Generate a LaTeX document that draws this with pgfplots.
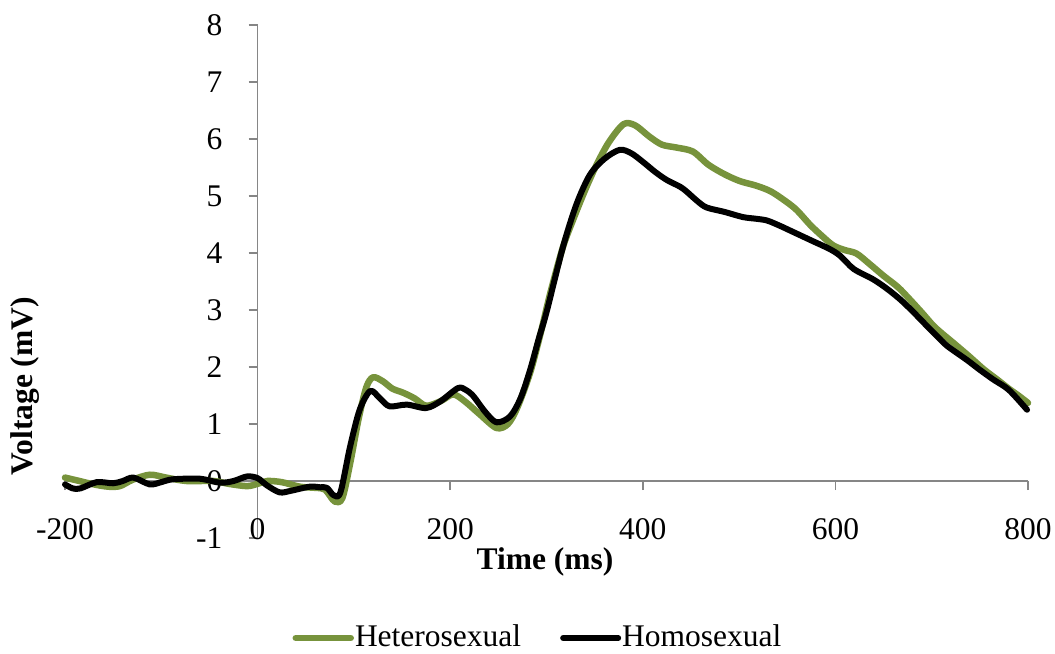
\documentclass[border=0pt]{standalone}
\usepackage{fontspec}
\setmainfont{Liberation Serif}
\usepackage{pgfplots}
\pgfplotsset{compat=1.18}
\definecolor{hetgreen}{RGB}{119,147,60}
\definecolor{axisgray}{RGB}{134,134,134}
\begin{document}
\fontsize{31.5bp}{37bp}\selectfont
\begin{tikzpicture}
\begin{axis}[
  at={(65bp,116bp)}, anchor=south west,
  scale only axis, width=963bp, height=513bp,
  xmin=-200, xmax=800, ymin=-1, ymax=8,
  clip=false,
  axis lines=middle,
  axis line style={draw=axisgray, line width=1.5bp, -},
  xtick={-200,200,400,600,800},
  xticklabels={-200,200,400,600,800},
  ytick={-1,1,2,3,4,5,6,7,8},
  yticklabels={-1,1,2,3,4,5,6,7,8},
  extra x ticks={0}, extra x tick labels={0},
  extra y ticks={0}, extra y tick labels={0},
  hide obscured x ticks=false, hide obscured y ticks=false,
  tick style={draw=axisgray, line width=1.5bp},
  major tick length=9bp,
  tick align=outside,
  xticklabel style={anchor=center, yshift=-39bp, inner sep=0pt},
  yticklabel style={anchor=east, inner sep=0pt, xshift=-26bp},
  xlabel={\textbf{Time (ms)}},
  ylabel={\textbf{Voltage (mV)}},
  xlabel style={at={(axis description cs:0.4984,-0.0468)}, anchor=center},
  ylabel style={at={(axis description cs:-0.0415,0.296)}, anchor=center, rotate=90},
  legend columns=2,
  legend style={at={(axis description cs:0.4906,-0.195)}, anchor=center,
    draw=none, fill=none, nodes={inner xsep=1bp},
    /tikz/every even column/.append style={column sep=38bp}},
  legend image code/.code={\draw[#1] (0bp,0bp) -- (55bp,0bp);},
  every axis plot/.append style={line cap=round, line join=round},
]
\addplot[hetgreen, line width=6.5bp, smooth, tension=0.5] coordinates {
(-200,0.06) (-185,0.0) (-170,-0.06) (-155,-0.1) (-143,-0.09) (-130,0.02)
(-112,0.11) (-95,0.06) (-74,0.0) (-46,0.0) (-30,-0.05) (-11,-0.09) (0,-0.05)
(10,0.0) (25,-0.02) (44,-0.1) (60,-0.12) (70,-0.15) (80,-0.36) (88,-0.3)
(96,0.3) (105,1.1) (113,1.65) (120,1.82) (130,1.75) (140,1.62) (151,1.55)
(163,1.45) (175,1.32) (190,1.4) (203,1.52) (215,1.4) (230,1.18) (248,0.93)
(260,1.0) (270,1.3) (283,1.9) (294,2.6) (304,3.3) (317,4.1) (328,4.6)
(340,5.1) (352,5.55) (365,5.95) (380,6.26) (392,6.24) (407,6.04) (420,5.9)
(435,5.85) (452,5.78) (468,5.55) (485,5.38) (501,5.26) (518,5.18) (533,5.08)
(549,4.90) (560,4.75) (574,4.49) (586,4.3) (598,4.13) (610,4.05) (622,3.99)
(636,3.8) (650,3.60) (665,3.4) (677,3.19) (690,2.95) (702,2.72) (712,2.57)
(722,2.43) (738,2.2) (754,1.96) (768,1.78) (780,1.62) (790,1.5) (800,1.37)
};
\addlegendentry{Heterosexual}
\addplot[black, line width=6bp, smooth, tension=0.5] coordinates {
(-200,-0.06) (-192,-0.13) (-184,-0.13) (-167,-0.02) (-150,-0.04) (-140,0.0)
(-129,0.06) (-112,-0.06) (-100,-0.02) (-88,0.03) (-60,0.04) (-39,-0.03)
(-25,0.0) (-11,0.08) (0,0.05) (10,-0.08) (23,-0.2) (35,-0.17) (54,-0.1)
(65,-0.11) (72,-0.12) (79,-0.25) (86,-0.2) (96,0.6) (106,1.25) (117,1.58)
(127,1.45) (137,1.31) (155,1.34) (175,1.28) (190,1.4) (208,1.63) (216,1.6)
(224,1.49) (236,1.22) (248,1.03) (262,1.13) (273,1.45) (283,1.95) (292,2.5)
(300,2.96) (317,4.1) (331,4.85) (345,5.37) (360,5.65) (376,5.81) (388,5.75)
(400,5.6) (413,5.42) (425,5.28) (439,5.16) (446,5.07) (456,4.92) (466,4.80)
(485,4.72) (504,4.63) (518,4.6) (529,4.57) (542,4.48) (556,4.37) (575,4.22)
(594,4.07) (605,3.95) (619,3.72) (639,3.54) (653,3.38) (667,3.19) (680,2.98)
(695,2.72) (705,2.55) (716,2.37) (736,2.13) (750,1.95) (764,1.78) (780,1.6)
(799,1.25)
};
\addlegendentry{Homosexual}
\end{axis}
\pgfresetboundingbox
\useasboundingbox (0,0) rectangle (1055bp,654bp);
\end{tikzpicture}
\end{document}
